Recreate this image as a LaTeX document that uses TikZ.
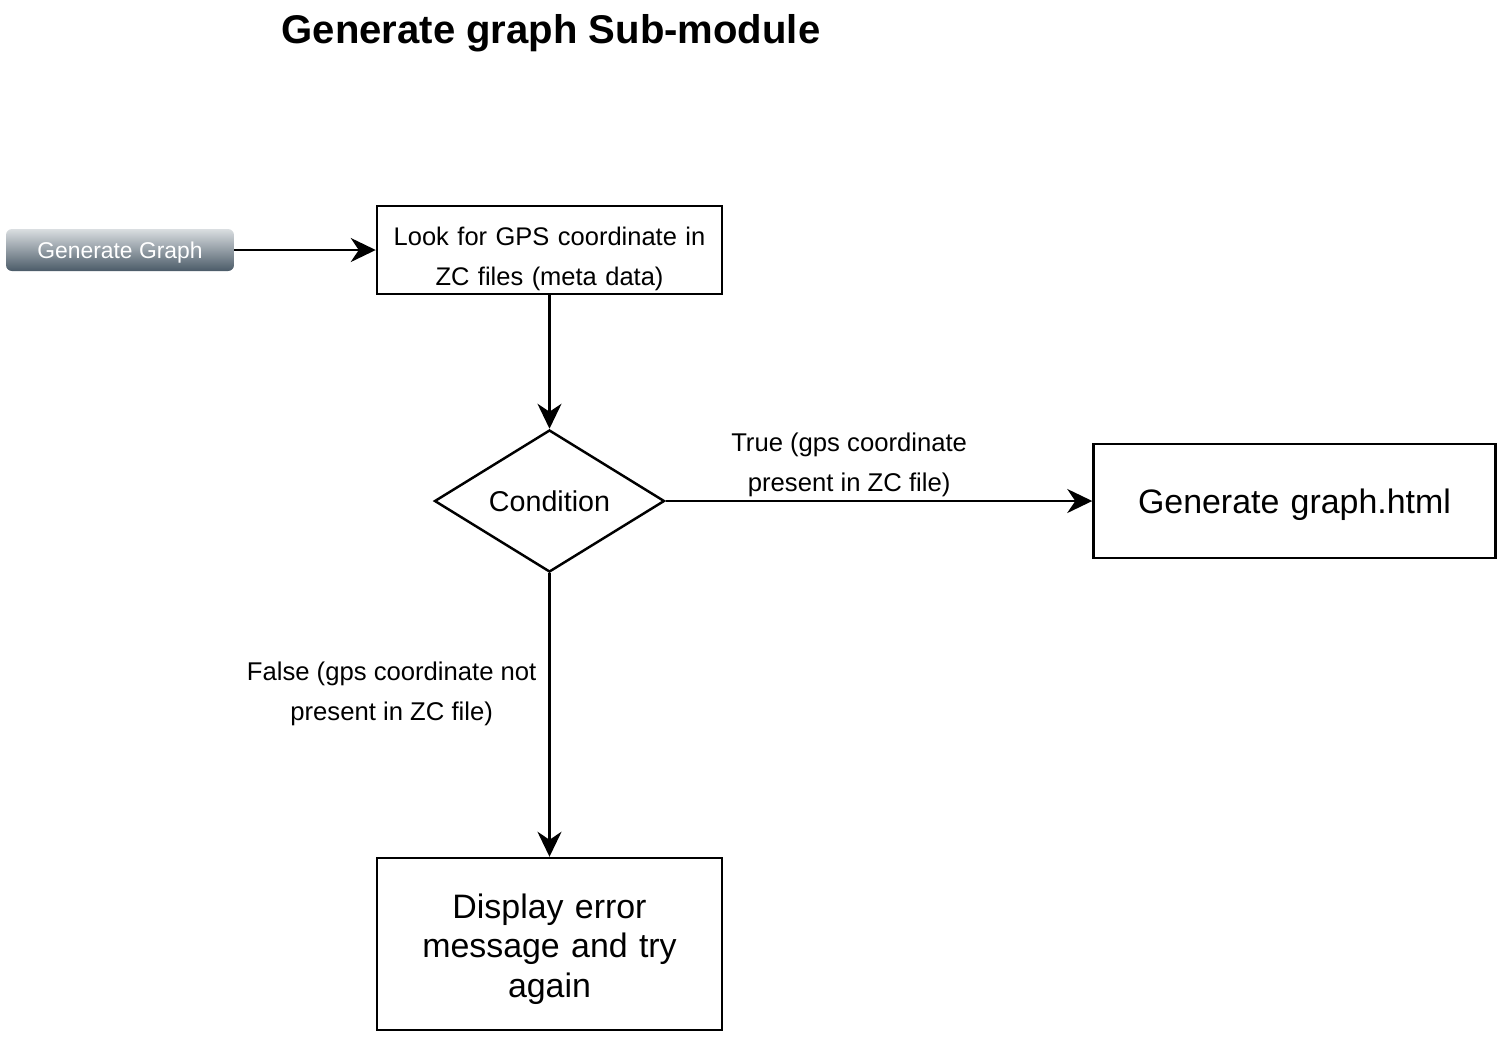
\documentclass[tikz,border=0pt]{standalone}
\usepackage{fontspec}
\setmainfont{Liberation Sans}
\usetikzlibrary{shapes,arrows,arrows.meta,positioning}
\definecolor{btntop}{HTML}{DADEE1}
\definecolor{btnbottom}{HTML}{4B5B68}
\tikzstyle{button} = [rectangle, rounded corners=0.12cm, top color=btntop, bottom color=btnbottom, text=white, minimum width=4.56cm, minimum height=0.84cm, text depth=-1.8pt, font=\fontsize{13}{15}\selectfont]
\tikzstyle{process} = [rectangle, draw, line width=1.4pt, inner sep=0pt, text width=6.9cm, text centered, minimum height=1.76cm, text depth=15.9pt, font=\fontsize{14.5}{22.7}\selectfont]
\tikzstyle{bigprocess} = [rectangle, draw, line width=1.4pt, inner sep=0pt, text width=6.9cm, text centered, minimum height=3.44cm, text depth=42.9pt, font=\fontsize{19.3}{22.4}\selectfont]
\tikzstyle{decision} = [diamond, draw, line width=1.4pt, inner sep=0pt, minimum width=4.6cm, minimum height=2.84cm, font=\fontsize{16.3}{18}\selectfont]
\tikzstyle{edgelabel} = [text centered, font=\fontsize{14.6}{22.7}\selectfont]
\tikzstyle{line} = [draw, line width=1.4pt, -{Stealth[length=0.5cm,width=0.48cm,inset=0.16cm]}]

\begin{document}
\begin{tikzpicture}
        \useasboundingbox (0,0) rectangle (29.98,-20.74);
        \node [font=\fontsize{22.8}{26}\selectfont\bfseries] (title) at (11.02,-0.66) {Generate graph Sub-module};

        \node [process] (lookup) at (10.99,-5.0) {Look for GPS coordinate in\\ZC files (meta data)};
        \node [button, left of=lookup, node distance=8.59cm] (start) {Generate Graph};
        \node [decision, below of=lookup, node distance=5.02cm] (cond) {Condition};
        \node [process, text width=8.04cm, minimum height=2.28cm, text depth=-1.7pt, font=\fontsize{19.3}{22.4}\selectfont, right of=cond, node distance=14.9cm] (graph) {Generate graph.html};
        \node [bigprocess, below of=cond, node distance=8.86cm] (error) {Display error\\message and try\\again};

        \path [line] (start) -- (lookup);
        \path [line] (lookup) -- (cond);
        \path [line] (cond) -- node [edgelabel, pos=0.43, above, yshift=-0.05cm, align=center] (truelbl) {True (gps coordinate\\present in ZC file)} (graph);
        \path [line] (cond) -- node [edgelabel, pos=0.42, left, xshift=-0.12cm, yshift=-0.03cm, align=center] (falselbl) {False (gps coordinate not\\present in ZC file)} (error);
      \end{tikzpicture}
\end{document}
